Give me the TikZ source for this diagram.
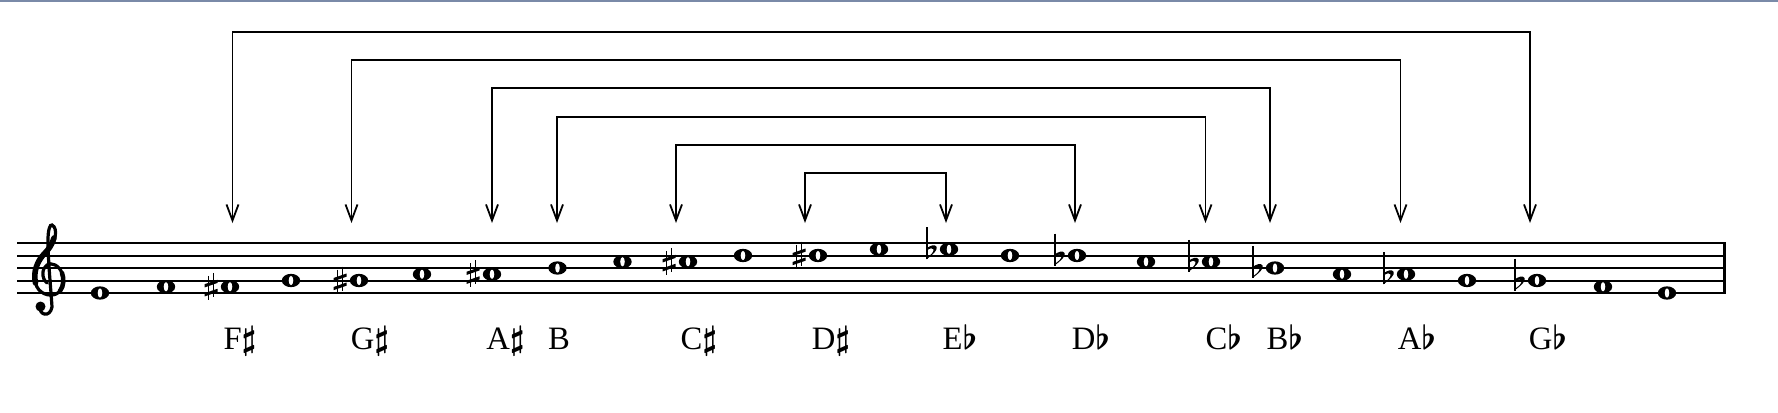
\documentclass[tikz,border=0pt]{standalone}
\usepackage{fontspec}
\newfontfamily\labfont{Liberation Serif}
\usetikzlibrary{arrows.meta,shapes.geometric}
\definecolor{topline}{RGB}{122,138,168}
\newcommand{\shp}{\mbox{\boldmath$\sharp$}}
\newcommand{\flt}{\mbox{\boldmath$\flat$}}
\begin{document}
\begin{tikzpicture}[x=0.75pt,y=-0.75pt,
  staffline/.style={line width=1.5pt},
  wnote/.style={ellipse, fill=black, inner sep=0pt, minimum width=13.8pt, minimum height=10pt,
     path picture={\fill[white, rotate around={-30:(path picture bounding box.center)}] (path picture bounding box.center) ellipse [x radius=1.7pt, y radius=3.5pt];}},
  conn/.style={line width=1.35pt, {Straight Barb[length=12pt,width=9pt]}-{Straight Barb[length=12pt,width=9pt]}},
  lab/.style={anchor=base, inner sep=0pt, font=\labfont\fontsize{24.5}{29}\selectfont},
  sharpsign/.pic={
    \draw[line width=1.2pt] (-2.6,-11) -- (-2.6,13);
    \draw[line width=1.2pt] (2.6,-14) -- (2.6,10);
    \fill (-6.5,-2.5) -- (6.5,-7) -- (6.5,-3.8) -- (-6.5,0.7) -- cycle;
    \fill (-6.5,6.5) -- (6.5,2) -- (6.5,5.2) -- (-6.5,9.7) -- cycle;
  },
  flatsign/.pic={
    \draw[line width=1.2pt] (-22,-22) -- (-22,10);
    \fill (-22.5,10) .. controls (-16,5) and (-11,1) .. (-12.5,-2.5) .. controls (-14,-5.5) and (-19,-3.5) .. (-22.5,-1) -- (-22.5,1.5) .. controls (-19,-1.5) and (-16,-1.5) .. (-15.5,0) .. controls (-15,3) and (-18.5,6) .. (-22.5,8.5) -- cycle;
  }
]
\useasboundingbox (0,0) rectangle (1778,412);
\fill[topline] (0,0) rectangle (1778,2);

% staff
\foreach \yy in {243,255.5,268,280.5,293}
  \draw[staffline] (17,\yy) -- (1725,\yy);
\draw[line width=2.4pt] (1724.8,242.3) -- (1724.8,293.7);

% treble clef
\draw[line width=2.4pt, line cap=round]
  (40,307) .. controls (39,315) and (50,318) .. (52,307)
  .. controls (51,290) and (48,262) .. (48,240)
  .. controls (48,230) and (50,224) .. (52,225)
  .. controls (58,228) and (57,242) .. (45,253)
  .. controls (37,261) and (33,272) .. (35.5,283)
  .. controls (38,294) and (50,297) .. (56,294)
  .. controls (63,291) and (65,281) .. (62,273)
  .. controls (59,265) and (51,262) .. (47,265)
  .. controls (42,268) and (41,278) .. (47,283);
\draw[line width=4.2pt, line cap=round]
  (54,238) .. controls (52,245) and (48,250) .. (45,253)
  .. controls (37,261) and (33,272) .. (35.5,283);
\draw[line width=3.4pt, line cap=round]
  (60,291) .. controls (64,286) and (64,278) .. (62,273);
\fill (40.5,306.5) circle (5);

% notes
\node[wnote] (n1) at (100,293) {};
\node[wnote] (n2) at (166,286.75) {};
\node[wnote] (n3) at (230,286.75) {};
\node[wnote] (n4) at (291,280.5) {};
\node[wnote] (n5) at (359,280.5) {};
\node[wnote] (n6) at (422,274.25) {};
\node[wnote] (n7) at (492,274.25) {};
\node[wnote] (n8) at (557.5,268) {};
\node[wnote] (n9) at (622.5,261.75) {};
\node[wnote] (n10) at (688,261.75) {};
\node[wnote] (n11) at (743,255.5) {};
\node[wnote] (n12) at (818,255.5) {};
\node[wnote] (n13) at (879,249.25) {};
\node[wnote] (n14) at (949,249.25) {};
\node[wnote] (n15) at (1010,255.5) {};
\node[wnote] (n16) at (1077,255.5) {};
\node[wnote] (n17) at (1146,261.75) {};
\node[wnote] (n18) at (1211,261.75) {};
\node[wnote] (n19) at (1275,268) {};
\node[wnote] (n20) at (1342,274.25) {};
\node[wnote] (n21) at (1406,274.25) {};
\node[wnote] (n22) at (1467,280.5) {};
\node[wnote] (n23) at (1537,280.5) {};
\node[wnote] (n24) at (1603,286.75) {};
\node[wnote] (n25) at (1667,293) {};

% accidentals
\pic at (211,286.75) {sharpsign};
\pic at (340,280.5) {sharpsign};
\pic at (473,274.25) {sharpsign};
\pic at (669,261.75) {sharpsign};
\pic at (799,255.5) {sharpsign};
\pic at (949,249.25) {flatsign};
\pic at (1077,255.5) {flatsign};
\pic at (1211,261.75) {flatsign};
\pic at (1275,268) {flatsign};
\pic at (1406,274.25) {flatsign};
\pic at (1537,280.5) {flatsign};

% arrow tips
\coordinate (aF) at (232.5,223);
\coordinate (aG) at (351.5,223);
\coordinate (aA) at (492,223);
\coordinate (aB) at (557,223);
\coordinate (aC) at (676,223);
\coordinate (aD) at (805,223);
\coordinate (aEb) at (946,223);
\coordinate (aDb) at (1075,223);
\coordinate (aCb) at (1205.5,223);
\coordinate (aBb) at (1270,223);
\coordinate (aAb) at (1400.5,223);
\coordinate (aGb) at (1530,223);

\draw[conn] (aF) -- ++(0,-191.3) -| (aGb);
\draw[conn] (aG) -- ++(0,-163) -| (aAb);
\draw[conn] (aA) -- ++(0,-134.7) -| (aBb);
\draw[conn] (aB) -- ++(0,-106.4) -| (aCb);
\draw[conn] (aC) -- ++(0,-78.1) -| (aDb);
\draw[conn] (aD) -- ++(0,-49.8) -| (aEb);

% labels
\node[lab] (lF) at (240,349.5) {F\shp};
\node[lab] (lG) at (370,349.5) {G\shp};
\node[lab] (lA) at (505.5,349.5) {A\shp};
\node[lab] (lB) at (559,349.5) {B};
\node[lab] (lC) at (699,349.5) {C\shp};
\node[lab] (lD) at (831,349.5) {D\shp};
\node[lab] (lEb) at (960,349.5) {E\flt};
\node[lab] (lDb) at (1091,349.5) {D\flt};
\node[lab] (lCb) at (1224,349.5) {C\flt};
\node[lab] (lBb) at (1285,349.5) {B\flt};
\node[lab] (lAb) at (1417,349.5) {A\flt};
\node[lab] (lGb) at (1548,349.5) {G\flt};
\end{tikzpicture}
\end{document}
